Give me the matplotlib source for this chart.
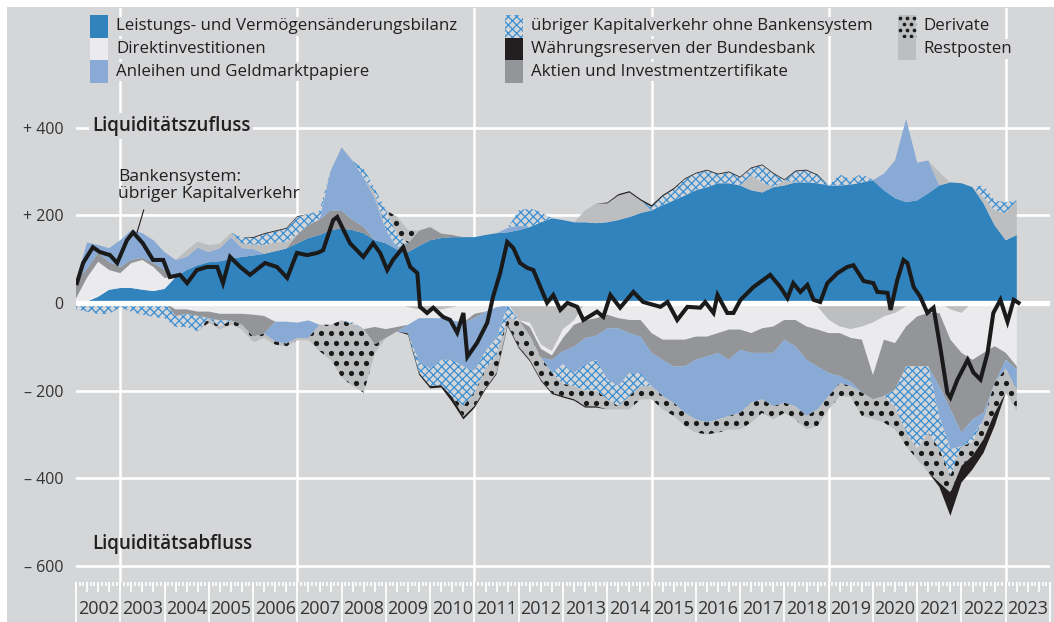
import numpy as np
import matplotlib
matplotlib.use("Agg")
import matplotlib.pyplot as plt
from matplotlib.patches import Rectangle
from matplotlib.ticker import FixedLocator, NullFormatter

plt.rcParams['font.family'] = ['Open Sans', 'DejaVu Sans']
plt.rcParams['hatch.color'] = '#3b8fd2'
plt.rcParams['hatch.linewidth'] = 0.9

""" data: quarterly 12-month sums, Mrd Euro """
dates = 2002 + np.arange(86) / 4

leistungsbilanz = [0, 3, 14, 30, 34, 34, 30, 27, 32, 59, 75, 86, 93, 95, 100, 105,
                   108, 112, 118, 124, 136, 148, 155, 166, 170, 166, 159, 143, 136, 122, 116, 130,
                   143, 148, 150, 150, 150, 155, 159, 161, 166, 173, 184, 193, 189, 184, 184, 182,
                   184, 189, 196, 205, 211, 223, 234, 245, 257, 264, 273, 273, 268, 257, 252, 264,
                   268, 275, 275, 273, 268, 268, 270, 275, 280, 257, 239, 230, 234, 250, 268, 275,
                   273, 264, 227, 177, 143, 155]
direkt = [10, 55, 80, 45, 34, 57, 68, 55, 25, -15, -15, -20, -20, -25, -25, -25,
          -27, -30, -43, -43, -45, -40, -50, -50, -40, -45, -60, -55, -60, -55, -40, -20,
          -20, -20, -30, -40, -25, -20, -10, -5, 0, -10, -10, -10, -20, -10, -40, -35,
          -27, -35, -39, -39, -69, -84, -84, -84, -77, -77, -69, -61, -61, -69, -58, -54,
          -39, -39, -54, -53, -30, -15, -20, -30, -120, -53, -69, -46, -31, -23, -23, -69,
          -91, -130, -114, -99, -114, -145]
anleihen = [0, 60, 18, 32, 61, 68, 56, 52, 41, 39, 30, 40, 23, 30, 50, 20,
            15, 0, -45, -50, -35, -40, 0, 90, 145, 135, 113, 95, 30, 5, -20, -100,
            -115, -95, -90, -100, -120, -90, -70, 10, 10, 0, 0, -30, -30, -60, -60, -55,
            -117, -132, -91, -83, -76, -83, -83, -106, -136, -151, -152, -128, -144, -114, -106, -122,
            -144, -137, -128, -98, -53, -16, -10, 0, 0, 38, 86, 190, 86, 75, -70, -91,
            -31, -38, -15, 0, -20, -46]
uebriger = [-15, -20, -25, -25, -10, -20, -27, -32, -35, -25, -30, -35, 0, -15, 0, 15,
            15, 25, 25, 30, 40, 25, 20, 0, 0, -5, 20, 11, 45, 30, 0, -25,
            -40, -58, -85, -90, -50, -40, -40, -30, 35, 43, 23, 0, -45, -30, -60, -70,
            -45, -46, -53, -30, 8, 20, 25, 37, 38, 38, 20, 25, 18, 16, 39, 31,
            0, 25, 27, 18, 0, 25, 12, 20, 0, 0, -40, -151, -189, -151, -74, -61,
            0, -15, 27, 23, 25, 0]
reserven = [0, 0, 0, 0, 0, 0, 0, 0, 0, 0, 0, 0, 0, 0, 0, 0,
            2, 2, 2, 2, 2, 0, 0, 0, 0, 0, 0, 0, 0, 0, -3, -4,
            -5, -5, -12, -6, -5, -3, -3, -3, -3, -3, -3, -3, -3, -3, -3, -3,
            2, 3, 3, 3, 4, 3, 3, 2, 2, 2, 2, 2, 2, 2, 2, 2,
            2, 2, 2, 2, 0, 0, 0, 0, 0, 0, 0, 0, 0, 0, -10, -53,
            -38, -31, -31, -30, 0, 0]
aktien = [40, 20, 20, 18, 14, 7, 5, 9, 18, -15, -10, -10, -15, -15, -15, -25,
          -50, -40, 0, 0, 20, 30, 35, 45, 40, 23, 14, -40, -20, -10, 20, 35,
          30, 10, 5, 0, -10, 0, 0, 0, 0, -20, -20, -10, -30, -50, -40, -40,
          -31, -23, -30, -38, -45, -46, -61, -61, -53, -45, -45, -69, -46, -45, -56, -60,
          -45, -60, -76, -84, -91, -98, -100, -121, -55, -129, -106, -91, -114, -122, -167, -159,
          -182, -136, -137, -84, -16, -7]
derivate = [0, 0, 0, 0, 0, 0, 0, 0, 0, 0, 0, 0, -10, -6, -10, -11,
            -12, -10, -7, -7, -5, -5, -60, -80, -130, -140, -145, -20, 0, 40, 30, 0,
            0, 0, 0, -25, -30, -45, -40, -15, -60, -55, -50, -45, -28, -30, -36, -36,
            -23, -7, -30, -30, -30, -30, -30, -30, -30, -27, -30, -31, -38, -45, -31, -30,
            -23, -30, -31, -38, -30, -30, -25, -53, -45, -60, -51, -31, -23, -91, -76, -38,
            -45, -30, -45, -68, -55, -49]
restposten = [0, 0, 0, 0, 0, 0, 0, 0, 0, 0, 15, 14, 16, 10, 10, 10,
              10, 20, 20, 15, 0, 0, 0, 0, 0, 0, 0, 12, 0, 0, -10, -15,
              -15, -15, -10, -5, 0, 0, 0, 0, -40, -45, -95, -110, -60, -40, 27, 45,
              43, 56, 56, 29, 0, 0, 0, 0, 0, 0, 0, 0, 0, 34, 23, 0,
              12, 0, 0, -8, -39, -54, -60, -54, -45, -31, -23, -8, 0, 0, 30, -15,
              -23, 0, 14, 34, 62, 79]

# Bankensystem: übriger Kapitalverkehr (monthly readings)
bank_dates = [2002.02, 2002.16, 2002.38, 2002.54, 2002.77, 2002.93, 2003.15, 2003.29, 2003.51, 2003.74,
              2003.97, 2004.12, 2004.35, 2004.51, 2004.73, 2004.96, 2005.19, 2005.32, 2005.48, 2005.71,
              2005.93, 2006.27, 2006.54, 2006.77, 2006.99, 2007.22, 2007.45, 2007.58, 2007.81, 2007.90,
              2008.19, 2008.49, 2008.71, 2008.87, 2009.03, 2009.16, 2009.39, 2009.55, 2009.71, 2009.77,
              2009.93, 2010.07, 2010.29, 2010.45, 2010.61, 2010.75, 2010.84, 2011.06, 2011.29, 2011.42,
              2011.58, 2011.74, 2011.88, 2012.03, 2012.19, 2012.33, 2012.49, 2012.64, 2012.78, 2012.94,
              2013.10, 2013.32, 2013.46, 2013.77, 2013.91, 2014.07, 2014.29, 2014.59, 2014.81, 2015.20,
              2015.36, 2015.58, 2015.81, 2016.10, 2016.21, 2016.40, 2016.49, 2016.71, 2016.85, 2017.01,
              2017.30, 2017.68, 2017.91, 2018.07, 2018.20, 2018.36, 2018.52, 2018.66, 2018.81, 2018.97,
              2019.20, 2019.42, 2019.56, 2019.79, 2020.01, 2020.10, 2020.33, 2020.40, 2020.55, 2020.69,
              2020.78, 2020.92, 2021.07, 2021.23, 2021.37, 2021.53, 2021.68, 2021.75, 2021.91, 2022.14,
              2022.27, 2022.43, 2022.59, 2022.72, 2022.88, 2023.04, 2023.18, 2023.29]
bank_values = [45, 91, 127, 116, 109, 91, 143, 161, 136, 98,
               98, 59, 64, 45, 75, 82, 82, 45, 105, 82,
               64, 91, 82, 57, 114, 109, 114, 120, 189, 196,
               136, 105, 136, 114, 75, 98, 127, 82, 68, -9,
               -23, -11, -32, -39, -68, -23, -123, -91, -45, 14,
               68, 139, 125, 91, 80, 75, 36, 0, 18, -16,
               0, -9, -39, -20, -32, 18, -11, 25, 2, -9,
               2, -39, -9, -11, 2, -23, 18, -23, -23, 7,
               36, 64, 36, 11, 45, 25, 41, 7, 2, 45,
               68, 82, 86, 50, 45, 25, 23, -16, 52, 98,
               91, 36, 14, -23, -11, -107, -205, -216, -175, -130,
               -159, -175, -114, -23, 7, -43, 7, 0]

year_labels = [str(y) for y in range(2002, 2024)]
ytick_vals = [-600, -400, -200, 0, 200, 400]
ytick_text = ['\u2013 600', '\u2013 400', '\u2013 200', '0', '+ 200', '+ 400']

series = {
    'lb': leistungsbilanz, 'direkt': direkt, 'anleihen': anleihen, 'uebriger': uebriger,
    'reserven': reserven, 'aktien': aktien, 'derivate': derivate, 'rest': restposten,
}
styles = {
    'lb': dict(fc='#3183be', label='Leistungs- und Vermögensänderungsbilanz'),
    'direkt': dict(fc='#ebebed', label='Direktinvestitionen'),
    'anleihen': dict(fc='#88aad5', label='Anleihen und Geldmarktpapiere'),
    'uebriger': dict(fc='#d3d5d8', hatch='xxxx', label='übriger Kapitalverkehr ohne Bankensystem'),
    'reserven': dict(fc='#231f20', label='Währungsreserven der Bundesbank'),
    'aktien': dict(fc='#939598', label='Aktien und Investmentzertifikate'),
    'derivate': dict(fc='#bcbec0', label='Derivate'),
    'rest': dict(fc='#bcbec0', label='Restposten'),
}
pos_order = ['lb', 'direkt', 'aktien', 'anleihen', 'rest', 'uebriger', 'derivate', 'reserven']
neg_order = ['rest', 'direkt', 'aktien', 'anleihen', 'uebriger', 'derivate', 'reserven']

BG = '#d5d6d8'
TXT = '#231f20'

""" figure """
fig = plt.figure(figsize=(10.54, 6.22), dpi=100, facecolor='white')
ax = fig.add_axes([76 / 1054, 40 / 622, 974 / 1054, 574 / 622])
ax.set_facecolor(BG)
ax.set_xlim(2002, 2024)
ax.set_ylim(-637, 673)
for s in ax.spines.values():
    s.set_visible(False)

# grid behind the areas
for v in [-600, -400, -200, 200, 400]:
    ax.axhline(v, color='white', lw=1.9, zorder=0.5)
for yr in range(2003, 2024, 4):
    ax.axvline(yr, color='white', lw=1.8, zorder=0.5)

# dot pattern for Derivate (10 px raster)
dx = 10 / 44.27
dy = 10 / 0.438
gx, gy = np.meshgrid(np.arange(2002, 2024.5, dx), np.arange(-640, 680, dy))
gx[1::2] += dx / 2


def stack(keys, sign):
    base = np.zeros(len(dates))
    for k in keys:
        v = np.asarray(series[k], dtype=float)
        part = np.clip(v, 0, None) if sign > 0 else np.clip(v, None, 0)
        top = base + part
        st = styles[k]
        coll = ax.fill_between(dates, base, top, facecolor=st['fc'], hatch=st.get('hatch'),
                               edgecolor='#3b8fd2' if st.get('hatch') else 'none',
                               linewidth=0, zorder=2)
        if k == 'derivate' and np.any(part != 0):
            dots = ax.scatter(gx.ravel(), gy.ravel(), s=14, color='#1a1a1a', linewidths=0, zorder=2.1)
            dots.set_clip_path(coll.get_paths()[0], ax.transData)
        base = top


stack(pos_order, 1)
stack(neg_order, -1)

ax.axhline(0, color='white', lw=3.8, zorder=3)
ax.plot(bank_dates, bank_values, color='#1a1a1a', lw=2.9, zorder=4, solid_joinstyle='miter')

# annotations
ax.text(2002.36, 404, 'Liquiditätszufluss', fontsize=13.5, fontweight='semibold', color=TXT,
        va='center', ha='left', zorder=5,
        bbox=dict(boxstyle='square,pad=0.15', facecolor=BG, edgecolor='none'))
ax.text(2002.36, -551, 'Liquiditätsabfluss', fontsize=13.5, fontweight='semibold', color=TXT,
        va='center', ha='left', zorder=5)
ax.text(2002.95, 305, 'Bankensystem:\nübriger Kapitalverkehr', fontsize=12.5, color=TXT,
        va='top', ha='left', linespacing=1.1, zorder=5)
ax.plot([2003.53, 2003.38], [212, 161], color=TXT, lw=0.8, zorder=5)

# y ticks
ax.set_yticks(ytick_vals)
ax.set_yticklabels(ytick_text)
ax.tick_params(axis='y', length=0, pad=9, labelsize=11.5, labelcolor='#333333')

# x ticks: years (long), months (short), quarters (medium), labels in the middle
ax.xaxis.set_major_locator(FixedLocator(np.arange(2002, 2025)))
ax.xaxis.set_major_formatter(NullFormatter())
ax.xaxis.set_minor_locator(FixedLocator(2002 + np.arange(265) / 12))
ax.tick_params(axis='x', which='major', length=30, width=1.2, color='white', direction='out')
ax.tick_params(axis='x', which='minor', length=3, width=1.2, color='white', direction='out')

sec_q = ax.secondary_xaxis('bottom')
sec_q.xaxis.set_major_locator(FixedLocator(2002 + np.arange(89) / 4))
sec_q.xaxis.set_major_formatter(NullFormatter())
sec_q.tick_params(length=7.5, width=1.2, color='white')
for s in sec_q.spines.values():
    s.set_visible(False)

sec_y = ax.secondary_xaxis('bottom')
sec_y.set_xticks(np.arange(2002, 2024) + 0.5, year_labels)
sec_y.tick_params(length=0, pad=13, labelsize=13, labelcolor='#333333')
for s in sec_y.spines.values():
    s.set_visible(False)

""" legend and frame, drawn in pixel coordinates """
lay = fig.add_axes([0, 0, 1, 1], facecolor='none', zorder=10)
lay.set_xlim(0, 1054)
lay.set_ylim(622, 0)
lay.axis('off')
fig.patches.append(Rectangle((7 / 1054, 0), 1, 615 / 622, transform=fig.transFigure,
                             facecolor=BG, edgecolor='none', zorder=-1))
ax.set_zorder(1)

legend_cols = [(90, 116, ['lb', 'direkt', 'anleihen']),
               (505, 531, ['uebriger', 'reserven', 'aktien']),
               (898, 923, ['derivate', 'rest'])]
row_h = 22.6
for hx, tx, keys in legend_cols:
    for r, k in enumerate(keys):
        y0 = 15 + r * row_h
        st = styles[k]
        rect = Rectangle((hx, y0), 18, row_h, facecolor=st['fc'], hatch=st.get('hatch'),
                         edgecolor='#3b8fd2' if st.get('hatch') else 'none', linewidth=0)
        lay.add_patch(rect)
        if k == 'derivate':
            px, py = np.meshgrid(np.arange(hx + 2, hx + 20, 7), np.arange(y0 + 3, y0 + row_h, 6))
            px = px.astype(float)
            px[1::2] += 3.5
            d = lay.scatter(px.ravel(), py.ravel(), s=7, color='#1a1a1a', linewidths=0)
            d.set_clip_path(rect)
        lay.text(tx, y0 + row_h / 2, st['label'], fontsize=12.2, color=TXT, va='center', ha='left',
                 bbox=dict(boxstyle='square,pad=0.1', facecolor=BG, edgecolor='none'))

fig.savefig('out.png', dpi=100, facecolor=fig.get_facecolor())
